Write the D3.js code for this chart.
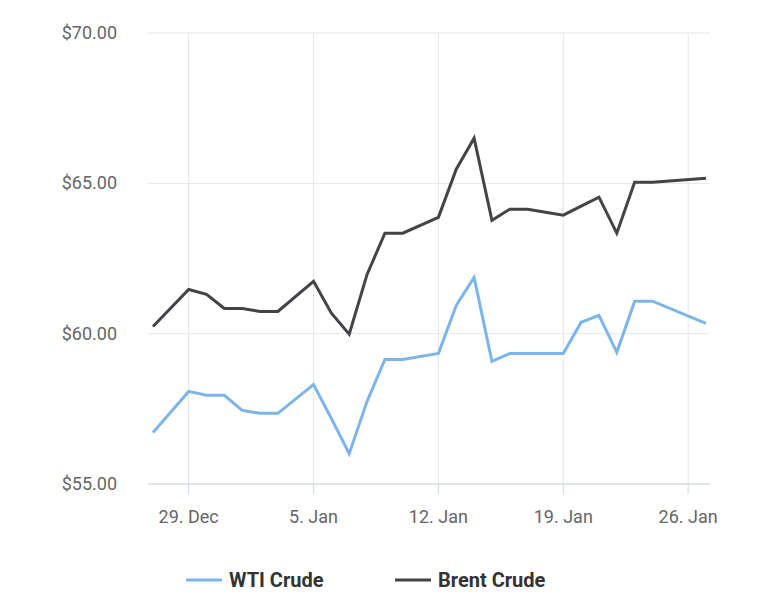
<!DOCTYPE html>
<html><head><meta charset="utf-8">
<script src="https://cdn.jsdelivr.net/npm/d3@7"></script>
<style>body{margin:0;background:#fff;font-family:Roboto,sans-serif}</style>
</head><body><svg id="chart" width="758" height="616"></svg>
<script>
// dates (trading days) and prices
let dates = ["2018-12-27","2018-12-29","2018-12-30","2018-12-31","2019-01-01","2019-01-02","2019-01-03",
  "2019-01-05","2019-01-06","2019-01-07","2019-01-08","2019-01-09","2019-01-10","2019-01-12","2019-01-13",
  "2019-01-14","2019-01-15","2019-01-16","2019-01-17","2019-01-19","2019-01-20","2019-01-21","2019-01-22",
  "2019-01-23","2019-01-24","2019-01-27"];
let wti = [56.71,58.08,57.95,57.95,57.45,57.35,57.35,58.31,57.18,56.01,57.75,59.14,59.14,59.34,60.94,
  61.87,59.08,59.34,59.34,59.34,60.38,60.61,59.38,61.08,61.08,60.34];
let brent = [60.24,61.47,61.31,60.84,60.84,60.74,60.74,61.74,60.68,59.98,61.97,63.34,63.34,63.87,65.47,
  66.50,63.77,64.14,64.14,63.94,64.24,64.54,63.34,65.04,65.04,65.17];
let yTicks = [55,60,65,70];
let xTicks = ["2018-12-29","2019-01-05","2019-01-12","2019-01-19","2019-01-26"];

let parse = d3.utcParse("%Y-%m-%d");
let svg = d3.select("#chart");
let plotLeft = 148, plotRight = 710, plotTop = 33, plotBottom = 484;

let x = d3.scaleUtc().domain([parse("2018-12-27"), parse("2019-01-27")]).range([153, 706]);
let y = d3.scaleLinear().domain([55, 70]).range([plotBottom, plotTop]);

// grid
svg.selectAll(".hg").data(yTicks).enter().append("line")
  .attr("x1", plotLeft).attr("x2", plotRight).attr("y1", d => y(d)).attr("y2", d => y(d))
  .attr("stroke", "#e6e6e6");
svg.selectAll(".vg").data(xTicks).enter().append("line")
  .attr("x1", d => x(parse(d))).attr("x2", d => x(parse(d))).attr("y1", plotTop).attr("y2", plotBottom)
  .attr("stroke", "#e6e6e6");
svg.append("line").attr("x1", plotLeft).attr("x2", plotRight).attr("y1", plotBottom).attr("y2", plotBottom)
  .attr("stroke", "#ccd6eb");
svg.selectAll(".xt").data(xTicks).enter().append("line")
  .attr("x1", d => x(parse(d))).attr("x2", d => x(parse(d))).attr("y1", plotBottom).attr("y2", plotBottom + 10)
  .attr("stroke", "#ccd6eb");

// labels
svg.selectAll(".yl").data(yTicks).enter().append("text")
  .attr("x", 117).attr("y", d => y(d) + 6).attr("text-anchor", "end")
  .attr("font-size", 18).attr("fill", "#666")
  .text(d => "$" + d.toFixed(2));
let fmt = d3.utcFormat("%-d. %b");
svg.selectAll(".xl").data(xTicks).enter().append("text")
  .attr("x", d => x(parse(d))).attr("y", 523).attr("text-anchor", "middle")
  .attr("font-size", 18).attr("fill", "#666")
  .text(d => fmt(parse(d)));

let line = d3.line().x((d, i) => x(parse(dates[i]))).y(d => y(d));
svg.append("path").attr("d", line(wti)).attr("fill", "none").attr("stroke", "#7cb5ec").attr("stroke-width", 3);
svg.append("path").attr("d", line(brent)).attr("fill", "none").attr("stroke", "#434348").attr("stroke-width", 3);

// legend
let leg = [["WTI Crude", "#7cb5ec", 186], ["Brent Crude", "#434348", 395]];
leg.forEach(l => {
  svg.append("line").attr("x1", l[2]).attr("x2", l[2] + 36).attr("y1", 580).attr("y2", 580)
    .attr("stroke", l[1]).attr("stroke-width", 3);
  svg.append("text").attr("x", l[2] + 43).attr("y", 587).attr("font-size", 20).attr("font-weight", "bold")
    .attr("fill", "#333").text(l[0]);
});
</script></body></html>
